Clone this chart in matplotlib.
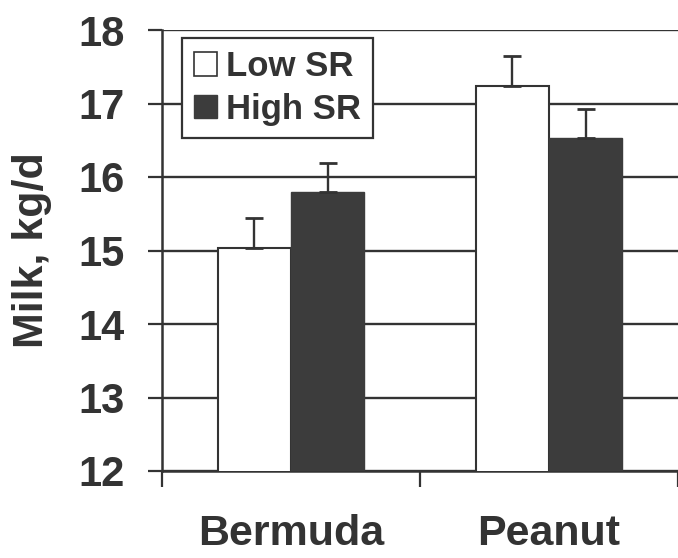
import matplotlib.pyplot as plt
import numpy as np
from matplotlib.patches import Patch

# data
forages = ['Bermuda', 'Peanut']
low_sr = [15.04, 17.24]
high_sr = [15.79, 16.53]
low_se = [0.40, 0.40]
high_se = [0.40, 0.40]

ink = '#333333'
dark = '#3c3c3c'

plt.rcParams['font.family'] = ['Liberation Sans', 'DejaVu Sans']
plt.rcParams['font.weight'] = 'bold'
plt.rcParams['axes.labelweight'] = 'bold'

fig = plt.figure(figsize=(6.78, 5.58), dpi=100)
ax = fig.add_axes([162 / 678, 1 - 471 / 558, 1 - 162 / 678, 441 / 558])

x = np.arange(len(forages))
w = 0.284
ax.bar(x - w / 2, low_sr, w, color='white', edgecolor=ink, linewidth=1.5, zorder=3)
ax.bar(x + w / 2, high_sr, w, color=dark, edgecolor=dark, linewidth=1.0, zorder=3)
ax.errorbar(x - w / 2, low_sr, yerr=[np.zeros(2), low_se], fmt='none',
            ecolor=ink, elinewidth=1.7, capsize=6.5, capthick=2.0, zorder=4)
ax.errorbar(x + w / 2, high_sr, yerr=[np.zeros(2), high_se], fmt='none',
            ecolor=ink, elinewidth=1.7, capsize=6.5, capthick=2.0, zorder=4)

ax.set_ylim(12, 18)
ax.set_xlim(-0.5, -0.5 + 516 / 261)
ax.set_yticks(range(12, 19))
ax.tick_params(axis='y', direction='out', length=10, width=1.6, color=ink,
               labelsize=30, pad=17, labelcolor=ink)
ax.grid(axis='y', color=ink, linewidth=1.7, zorder=0)
ax.set_axisbelow(True)

# category boundaries as ticks, names centred under groups
ax.set_xticks([-0.5, 0.5, 1.5])
ax.set_xticklabels([])
ax.tick_params(axis='x', which='major', direction='out', length=11.5, width=1.6, color=ink)
ax.set_xticks(x, forages, minor=True)
ax.tick_params(axis='x', which='minor', length=0, labelsize=31, pad=31, labelcolor=ink)

for s in ['top', 'right']:
    ax.spines[s].set_visible(False)
for s in ['left', 'bottom']:
    ax.spines[s].set_color(ink)
    ax.spines[s].set_linewidth(1.8)

ax.set_ylabel('Milk, kg/d', fontsize=31, color=ink, fontweight='bold')
ax.yaxis.set_label_coords(-0.213, 0.5)

handles = [Patch(facecolor='white', edgecolor=ink, linewidth=1.2),
           Patch(facecolor=dark, edgecolor=dark)]
leg = ax.legend(handles, ['Low SR', 'High SR'], loc='upper left',
                bbox_to_anchor=(182 / 678, 1 - 38 / 558), bbox_transform=fig.transFigure,
                borderaxespad=0, fontsize=25, fancybox=False, framealpha=1,
                edgecolor=ink, handlelength=0.66, handleheight=0.66,
                handletextpad=0.25, labelspacing=0.28, borderpad=0.35)
leg.get_frame().set_linewidth(1.6)
for t in leg.get_texts():
    t.set_color(ink)
leg.set_zorder(5)

fig.savefig('out.png', dpi=100)
